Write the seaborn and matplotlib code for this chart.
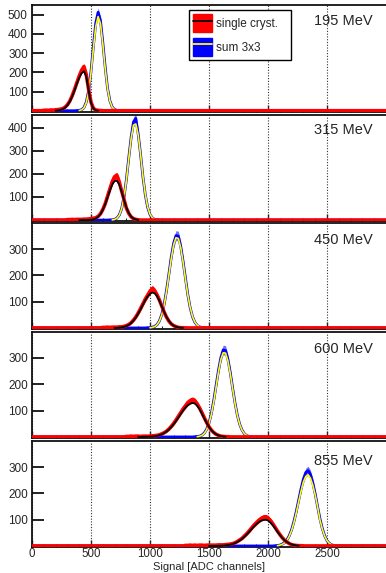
import numpy as np
import matplotlib
matplotlib.use("Agg")
import matplotlib.pyplot as plt
import seaborn as sns
from matplotlib.patches import Patch
from matplotlib.lines import Line2D
from matplotlib.legend_handler import HandlerTuple
from matplotlib.ticker import MultipleLocator

# ------------------------------------------------------------------
# Data (20 ADC-channel bins, value = counts)
# each list starts at the given bin centre, everything outside is 0
# ------------------------------------------------------------------
BIN = 20
X_MAX = 3000

energies = ["195 MeV", "315 MeV", "450 MeV", "600 MeV", "855 MeV"]
y_tops = [550, 455, 400, 398, 400]
y_ticks = [[100, 200, 300, 400, 500], [100, 200, 300, 400],
           [100, 200, 300], [100, 200, 300], [100, 200, 300]]

# single crystal histograms
red_start = [100, 300, 600, 800, 1300]
red_195 = [2, 3, 2, 4, 3, 5, 6, 8, 11, 18, 31, 50, 77, 110, 146, 180, 210, 230, 188, 110, 45, 13, 4,
           2, 1, 0]
red_315 = [2, 2, 3, 2, 3, 3, 3, 4, 4, 5, 6, 8, 10, 16, 27, 46, 70, 103, 135, 166, 188, 193, 165, 125,
           88, 52, 29, 14, 6, 3, 1, 0]
red_450 = [2, 2, 3, 2, 3, 3, 3, 4, 4, 6, 9, 13, 20, 30, 42, 57, 74, 92, 110, 125, 140, 150, 141, 126,
           106, 83, 60, 41, 26, 15, 9, 5, 2, 1, 1, 0]
red_600 = [2, 2, 3, 2, 3, 3, 2, 3, 3, 3, 3, 4, 5, 6, 8, 12, 16, 22, 30, 40, 51, 64, 78, 92, 106, 118,
           130, 137, 140, 136, 125, 110, 92, 73, 55, 39, 26, 17, 10, 6, 3, 2, 1, 1, 0, 0]
red_855 = [2, 2, 3, 2, 3, 2, 3, 3, 2, 3, 3, 3, 3, 3, 4, 4, 4, 5, 6, 7, 9, 12, 17, 23, 29, 38, 47, 57,
           68, 79, 88, 97, 104, 109, 110, 106, 97, 85, 71, 57, 44, 32, 22, 15, 9, 5, 3, 2, 1, 1, 0]

# fits to the single crystal spectra
red_fit_start = [200, 400, 700, 900, 1500]
red_fit_195 = [0.7, 1.7, 3.9, 8.1, 15.8, 28.5, 47.6, 73.6, 105, 140, 172, 195, 205, 178, 105, 42,
               11.3, 2.1, 0.3]
red_fit_315 = [0, 0, 0, 0.2, 0.5, 1.3, 3, 7, 14, 26, 44, 69, 98, 128, 154, 169, 170, 153, 122, 86.5,
               54.4, 30.4, 15, 6.6, 2.8, 1]
red_fit_450 = [0.3, 0.6, 1.2, 2.3, 4.2, 7.2, 11.9, 18.6, 28, 40, 55, 71, 89, 106, 120, 130, 135, 132,
               121, 103, 82, 61, 42, 27, 16, 8.9, 4.6, 2.2, 1, 0.4]
red_fit_600 = [0, 0.1, 0.2, 0.4, 0.6, 1, 1.7, 2.8, 4.4, 6.8, 10, 14.7, 20.7, 28, 37.5, 48, 60.5, 73.5,
               87, 99.7, 111, 120, 126, 129, 127, 118, 105, 88, 70, 53, 38, 25.9, 16.6, 10.2, 5.9,
               3.2, 1.7, 0.8]
red_fit_855 = [0, 0.1, 0.2, 0.3, 0.5, 0.8, 1.4, 2.2, 3.4, 5.1, 7.6, 10.8, 15.2, 20.6, 27.3, 35, 44,
               53.7, 63.7, 73.5, 82.5, 90, 96, 99, 100, 97, 89, 79, 67, 54, 42, 31, 22, 15, 9.7, 6,
               3.6, 2, 1]

# sum 3x3 histograms
blue_start = [380, 660, 980, 1380, 2060]
blue_195 = [1, 2, 5, 16, 45, 104, 205, 335, 455, 512, 470, 356, 228, 118, 52, 19, 6, 2, 1, 0]
blue_315 = [1, 1, 3, 9, 22, 50, 101, 176, 270, 358, 425, 440, 372, 285, 188, 110, 55, 24, 9, 3, 1, 0]
blue_450 = [1, 1, 3, 6, 13, 27, 52, 90, 143, 205, 270, 322, 352, 350, 312, 255, 190, 128, 78, 43,
            22, 10, 4, 2, 1, 0]
blue_600 = [1, 2, 3, 7, 15, 29, 53, 89, 138, 195, 252, 300, 330, 328, 295, 245, 186, 130, 83, 48,
            26, 12, 5, 2, 1, 0]
blue_855 = [1, 2, 3, 7, 13, 23, 39, 62, 94, 132, 176, 218, 255, 280, 287, 272, 240, 198, 150, 104,
            67, 39, 20, 10, 4, 2, 1, 0]

# fits to the 3x3 sums
blue_fit_start = [400, 680, 1000, 1400, 2080]
blue_fit_195 = [1, 4.2, 14.6, 42, 100, 198, 323, 437, 490, 454, 348, 221, 116, 50.6, 18, 5.4, 1.3]
blue_fit_315 = [0.8, 2.7, 8, 21, 49, 99, 173, 265, 353, 411, 416, 368, 284, 190, 112, 57, 25, 10,
                3.3, 1]
blue_fit_450 = [0.7, 2.1, 5.3, 12.3, 26, 50, 87, 139, 201, 264, 316, 344, 341, 307, 252, 188, 127,
                79, 44, 22.6, 10.5, 4.4, 1.7, 0.6]
blue_fit_600 = [0.9, 2.5, 6, 13.4, 27, 50.6, 85.8, 133, 189, 246, 293, 319, 318, 289, 241, 184, 128,
                82, 47.7, 25.4, 12.4, 5.5, 2.3, 0.9]
blue_fit_855 = [1.2, 2.8, 5.9, 11.5, 21, 36.7, 59, 90, 127, 169, 209, 244, 265, 271, 258, 231, 194,
                150, 100, 65, 38, 20, 10, 4, 2, 1]

red_all = [red_195, red_315, red_450, red_600, red_855]
red_fit_all = [red_fit_195, red_fit_315, red_fit_450, red_fit_600, red_fit_855]
blue_all = [blue_195, blue_315, blue_450, blue_600, blue_855]
blue_fit_all = [blue_fit_195, blue_fit_315, blue_fit_450, blue_fit_600, blue_fit_855]

# ------------------------------------------------------------------
# helpers
# ------------------------------------------------------------------
centres = np.arange(0, X_MAX + 1, BIN)


def full_hist(start, counts):
    h = np.zeros(len(centres))
    i0 = start // BIN
    h[i0:i0 + len(counts)] = counts
    return h


def bin_x(start, n):
    return start + BIN * np.arange(n)


# ------------------------------------------------------------------
# figure
# ------------------------------------------------------------------
sns.set_style("white")
plt.rcParams["font.family"] = ["Liberation Sans", "DejaVu Sans"]

W, H = 386, 573
fig = plt.figure(figsize=(W / 100, H / 100), dpi=100)

panel_px = [(5, 111.5), (115, 221), (223, 329), (332, 438), (441, 547)]
label_y = [0.853, 0.86, 0.84, 0.84, 0.815]
left = 32 / W

for i, (top, bot) in enumerate(panel_px):
    ax = fig.add_axes([left, 1 - bot / H, 1 - left, (bot - top) / H])

    blue = full_hist(blue_start[i], blue_all[i])
    red = full_hist(red_start[i], red_all[i])

    # 3x3 sum: statistical error band + histogram + fit
    ax.fill_between(centres, blue - np.sqrt(blue), blue + np.sqrt(blue),
                    color="#7070ff", lw=0, zorder=2)
    sns.lineplot(x=centres, y=blue, ax=ax, color="blue", lw=2.0, zorder=3)
    sns.lineplot(x=bin_x(blue_fit_start[i], len(blue_fit_all[i])), y=blue_fit_all[i],
                 ax=ax, color="yellow", lw=1.2, zorder=4)

    # single crystal
    ax.fill_between(centres, red - np.sqrt(red), red + np.sqrt(red),
                    color="red", lw=0, zorder=5)
    sns.lineplot(x=centres, y=red, ax=ax, color="red", lw=2.6, zorder=6)
    sns.lineplot(x=bin_x(red_fit_start[i], len(red_fit_all[i])), y=red_fit_all[i],
                 ax=ax, color="black", lw=1.3, zorder=7)

    ax.set_xlim(0, X_MAX)
    ax.set_ylim(-4, y_tops[i])
    ax.set_yticks(y_ticks[i])
    ax.set_xticks(range(0, 2501, 500))
    ax.xaxis.set_minor_locator(MultipleLocator(100))
    ax.grid(axis="x", color="#333333", linestyle=(0, (1, 1.5)), lw=0.8)
    ax.grid(axis="y", visible=False)
    ax.set_axisbelow(True)

    ax.tick_params(axis="y", direction="in", length=8.5, width=1.3, labelsize=8.5, pad=3,
                   left=True, color="#111111")
    ax.tick_params(axis="x", which="major", direction="in", length=5, width=1, labelsize=8.3,
                   pad=1, bottom=True, labelbottom=(i == 4))
    ax.tick_params(axis="x", which="minor", direction="in", length=2.5, width=0.8, bottom=True)

    for side in ["left", "top", "bottom"]:
        ax.spines[side].set_linewidth(1.3)
        ax.spines[side].set_color("#111111")
    ax.spines["right"].set_visible(False)

    ax.set_ylabel("")
    ax.set_xlabel("")
    ax.text(0.963, label_y[i], energies[i], transform=ax.transAxes, ha="right",
            va="center", fontsize=10.5)

    if i == 0:
        handles = [(Patch(facecolor="red", edgecolor="red"), Line2D([], [], color="black", lw=1.3)),
                   (Patch(facecolor="blue", edgecolor="blue"), Line2D([], [], color="yellow", lw=1.3))]
        leg = ax.legend(handles, ["single cryst.", "sum 3x3"],
                        handler_map={tuple: HandlerTuple(ndivide=1, pad=0)},
                        loc="upper left", bbox_to_anchor=(0.4435, 0.953, 0.288, 0.0),
                        mode="expand", borderaxespad=0,
                        fontsize=8.5, handlelength=1.6, handleheight=2.0, labelspacing=0.45,
                        borderpad=0.35, handletextpad=0.3, fancybox=False, framealpha=1)
        leg.get_frame().set_edgecolor("black")
        leg.get_frame().set_linewidth(1.0)

fig.text((left + 1) / 2, 1 - 567 / H, "Signal [ADC channels]", ha="center", va="center",
         fontsize=8.0)

fig.savefig("out.png", dpi=100)
